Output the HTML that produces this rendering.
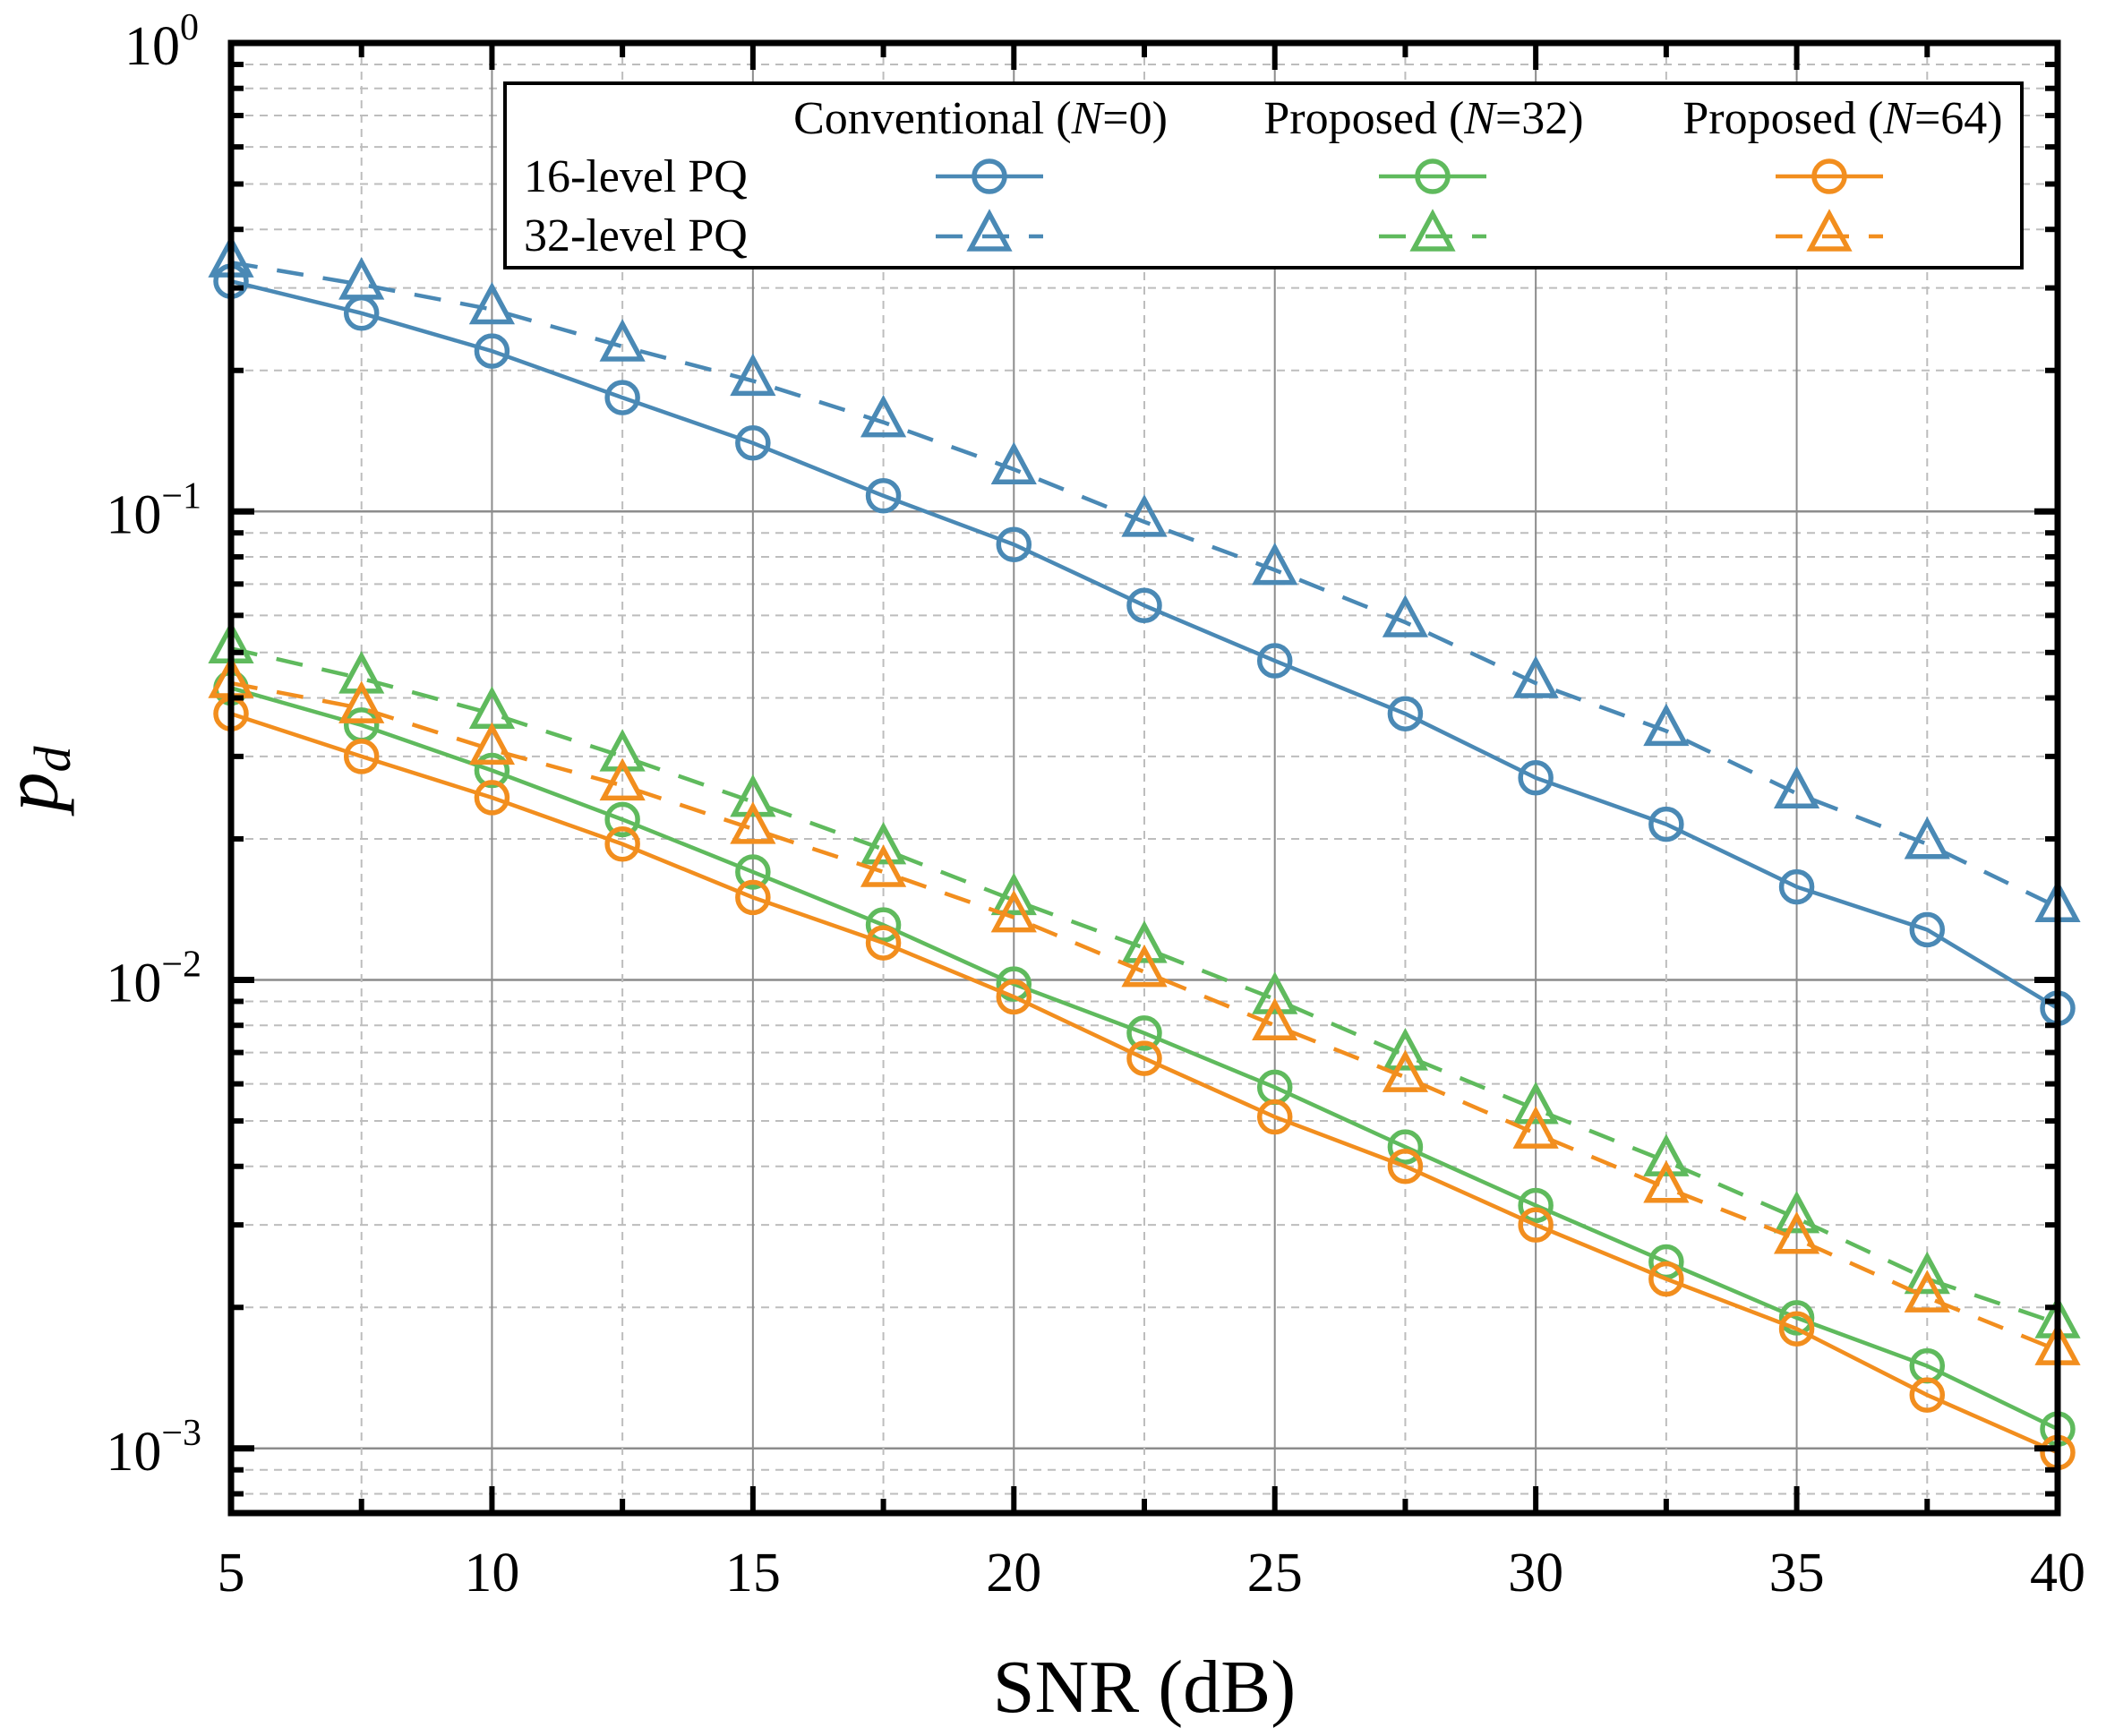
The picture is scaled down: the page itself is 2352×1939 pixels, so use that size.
<!DOCTYPE html>
<html><head><meta charset="utf-8"><style>
html,body{margin:0;padding:0;background:#fff;}
svg{display:block;font-family:"Liberation Serif",serif;}
</style></head><body>
<svg id="chart" width="2352" height="1939" viewBox="0 0 2352 1939" xmlns="http://www.w3.org/2000/svg">
<g id="grid"></g>
<g id="series"></g>
<g id="axes"></g>
<g id="legend"></g>
</svg>
<script>
const snr = [5,7.5,10,12.5,15,17.5,20,22.5,25,27.5,30,32.5,35,37.5,40];
const conv16 = [0.31,0.265,0.22,0.175,0.14,0.108,0.085,0.063,0.048,0.037,0.027,0.0215,0.0158,0.0128,0.0087];
const conv32 = [0.34,0.305,0.27,0.225,0.19,0.155,0.123,0.095,0.075,0.058,0.043,0.034,0.025,0.0195,0.0143];
const p32_16 = [0.042,0.035,0.028,0.022,0.017,0.0131,0.0098,0.0077,0.0059,0.0044,0.0033,0.0025,0.0019,0.0015,0.0011];
const p32_32 = [0.051,0.044,0.037,0.030,0.024,0.019,0.0148,0.0117,0.0091,0.0069,0.0053,0.0041,0.0031,0.0023,0.00185];
const p64_16 = [0.037,0.030,0.0245,0.0195,0.015,0.012,0.0092,0.0068,0.0051,0.0040,0.0030,0.0023,0.0018,0.0013,0.00098];
const p64_32 = [0.043,0.038,0.031,0.026,0.021,0.017,0.0136,0.0104,0.008,0.0062,0.0047,0.0036,0.0028,0.0021,0.00162];
const xTicks = [5,10,15,20,25,30,35,40];
const yExps = [0,-1,-2,-3];

const NS="http://www.w3.org/2000/svg";
const L=258,R=2298,T=48,B=1690;
const xMin=5,xMax=40,yTop=0,yBot=-3.138;
function xs(v){return L+(v-xMin)/(xMax-xMin)*(R-L);}
function ys(v){return T+(yTop-Math.log10(v))/(yTop-yBot)*(B-T);}
function mk(tag,attrs,parent){const e=document.createElementNS(NS,tag);for(const k in attrs)e.setAttribute(k,attrs[k]);parent.appendChild(e);return e;}
const grid=document.getElementById('grid'),axes=document.getElementById('axes'),series=document.getElementById('series'),legend=document.getElementById('legend');

for(let e=0;e>=-4;e--){for(let m=1;m<10;m++){const v=m*Math.pow(10,e);const y=ys(v);if(y<T-1||y>B)continue;
 const ln=mk('line',{x1:L,x2:R,y1:y,y2:y,stroke:m===1?'#8c8c8c':'#bdbdbd','stroke-width':m===1?2.5:2,'stroke-dasharray':m===1?'':'9,7'},grid);
 
 
 const tl=m===1?26:14;
 [[L,L+tl],[R,R-tl]].forEach(p=>{const t=mk('line',{x1:p[0],x2:p[1],y1:y,y2:y,stroke:'#000','stroke-width':m===1?7:6},axes);
 });
}}
for(let v=5;v<=40;v+=2.5){const x=xs(v);const major=(v%5===0);
 if(v>5&&v<40){const ln=mk('line',{x1:x,x2:x,y1:T,y2:B,stroke:major?'#8c8c8c':'#bdbdbd','stroke-width':2,'stroke-dasharray':major?'':'9,7'},grid);
 }
 const tl=major?30:16;
 [[B,B-tl],[T,T+tl]].forEach(p=>{const t=mk('line',{x1:x,x2:x,y1:p[0],y2:p[1],stroke:'#000','stroke-width':6},axes);
 });
}
const fr=mk('rect',{x:L,y:T,width:R-L,height:B-T,fill:'none',stroke:'#000','stroke-width':7},axes);

xTicks.forEach(v=>{const t=mk('text',{x:xs(v),y:1777,'text-anchor':'middle','font-size':62,fill:'#000'},axes);t.textContent=v;
 });
yExps.forEach(e=>{const y=ys(Math.pow(10,e));const t=mk('text',{x:e===0?222:225,y:y+24,'text-anchor':'end','font-size':62,fill:'#000'},axes);
 t.textContent='10';const s=mk('tspan',{dy:-28,'font-size':42},t);s.textContent=e===0?'0':'\u2212'+(-e);
 });
const xt=mk('text',{x:1278,y:1912,'text-anchor':'middle','font-size':84,fill:'#000'},axes);xt.textContent='SNR (dB)';

const yt=mk('text',{x:0,y:0,'text-anchor':'middle','font-size':88,'font-style':'italic',fill:'#000',transform:'translate(64,870) rotate(-90)'},axes);
yt.textContent='p';const ysub=mk('tspan',{dy:14,'font-size':58},yt);ysub.textContent='d';


const BLUE='#4a89b5',GREEN='#5fba5d',ORANGE='#f28e1e';
function circle(g,x,y,c){const e=mk('circle',{cx:x,cy:y,r:17,fill:'none',stroke:c,'stroke-width':5.5},g);}
function tri(g,x,y,c){const s=20;const e=mk('polygon',{points:`${x},${y-s*1.25} ${x-s*1.05},${y+s*0.7} ${x+s*1.05},${y+s*0.7}`,fill:'none',stroke:c,'stroke-width':5.5,'stroke-linejoin':'miter'},g);}
function drawSeries(name,vals,c,dashed){
 const g=mk('g',{},series);
 const pts=vals.map((v,i)=>xs(snr[i])+','+ys(v)).join(' ');
 const pl=mk('polyline',{points:pts,fill:'none',stroke:c,'stroke-width':4.5,'stroke-dasharray':dashed?'30,22':''},g);
 
 vals.forEach((v,i)=>{dashed?tri(g,xs(snr[i]),ys(v),c):circle(g,xs(snr[i]),ys(v),c);});
}
drawSeries('conv-16-level',conv16,BLUE,false);
drawSeries('conv-32-level',conv32,BLUE,true);
drawSeries('prop32-16-level',p32_16,GREEN,false);
drawSeries('prop32-32-level',p32_32,GREEN,true);
drawSeries('prop64-16-level',p64_16,ORANGE,false);
drawSeries('prop64-32-level',p64_32,ORANGE,true);

const lb=mk('rect',{x:564,y:93,width:1694,height:206,fill:'#fff',stroke:'#000','stroke-width':4},legend);

function ltxt(x,y,anchor,parts,name){const t=mk('text',{x:x,y:y,'text-anchor':anchor,'font-size':52,fill:'#000'},legend);
 parts.forEach(p=>{const s=mk('tspan',p[1]?{'font-style':'italic'}:{},t);s.textContent=p[0];});
 }
ltxt(1095,149,'middle',[['Conventional ('],['N',1],['=0)']],'legend-header-conventional');
ltxt(1590,149,'middle',[['Proposed ('],['N',1],['=32)']],'legend-header-proposed-32');
ltxt(2058,149,'middle',[['Proposed ('],['N',1],['=64)']],'legend-header-proposed-64');
ltxt(585,214,'start',[['16-level PQ']],'legend-row-16-level');
ltxt(585,280,'start',[['32-level PQ']],'legend-row-32-level');
[[1105,BLUE],[1600,GREEN],[2043,ORANGE]].forEach(p=>{const cx=p[0],c=p[1];
 const a=mk('line',{x1:cx-60,x2:cx+60,y1:197,y2:197,stroke:c,'stroke-width':4.5},legend);
 circle(legend,cx,197,c);
 const b=mk('line',{x1:cx-60,x2:cx+60,y1:264,y2:264,stroke:c,'stroke-width':4.5,'stroke-dasharray':'30,22'},legend);
 tri(legend,cx,264,c);
});
</script>
</body></html>
